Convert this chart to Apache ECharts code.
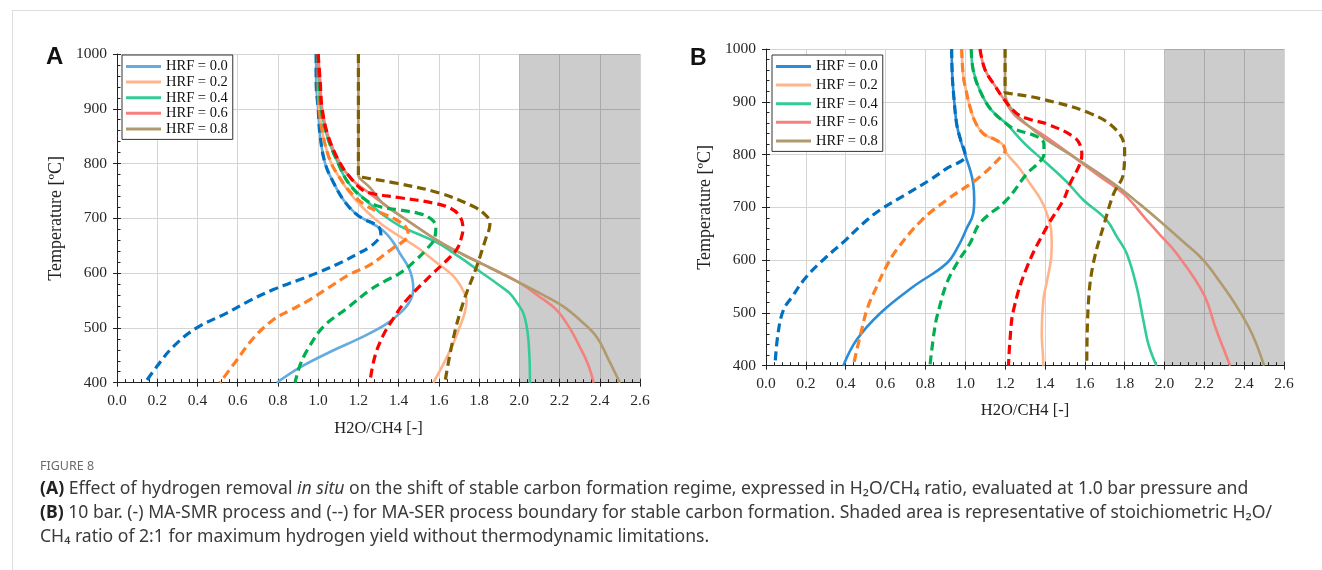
<!DOCTYPE html>
<html><head><meta charset="utf-8">
<script src="https://cdn.jsdelivr.net/npm/echarts@6/dist/echarts.min.js"></script>
<style>html,body{margin:0;padding:0;background:#fff}#c{width:1322px;height:570px}</style>
</head><body><div id="c"></div>
<script>
// ---------- labels / ticks ----------
const hrfLabels = ['HRF = 0.0', 'HRF = 0.2', 'HRF = 0.4', 'HRF = 0.6', 'HRF = 0.8'];
const xRange = [0, 2.6];
const xStep = 0.2;
const yRange = [400, 1000];
const yStep = 100;
const shadedRange = [2.0, 2.6];
const xName = 'H2O/CH4 [-]';
const yName = 'Temperature [ºC]';

// ---------- Panel A (1.0 bar): [H2O/CH4, T] ----------
const A_SMR_00 = [[0.99,1000],[0.99,950],[1.0,900],[1.01,850],[1.035,800],[1.078,764],[1.127,733],[1.185,709],[1.23,698],[1.315,680],[1.37,658],[1.41,634],[1.45,610],[1.468,590],[1.473,570],[1.455,548],[1.41,528],[1.33,505],[1.2,480],[1.058,456],[0.91,428],[0.794,400]];
const A_SER_00 = [[0.99,1000],[0.99,950],[1.0,900],[1.01,850],[1.035,800],[1.078,764],[1.127,733],[1.185,709],[1.23,698],[1.28,690],[1.305,682],[1.312,670],[1.30,662],[1.257,648],[1.2,636],[1.1,617],[0.993,600],[0.9,587],[0.777,570],[0.65,548],[0.545,527],[0.396,500],[0.28,466],[0.197,429],[0.14,400]];
const A_SMR_02 = [[1.0,1000],[1.0,950],[1.005,900],[1.025,850],[1.06,805],[1.1,778],[1.16,745],[1.24,713],[1.32,688],[1.41,666],[1.50,645],[1.572,624],[1.64,605],[1.688,588],[1.725,565],[1.738,550],[1.728,527],[1.70,498],[1.67,470],[1.62,432],[1.572,400]];
const A_SER_02 = [[1.0,1000],[1.0,950],[1.005,900],[1.025,850],[1.06,805],[1.1,778],[1.16,748],[1.23,725],[1.307,711],[1.39,697],[1.435,684],[1.448,671],[1.43,660],[1.373,646],[1.257,615],[1.158,598],[1.05,573],[0.943,548],[0.86,532],[0.777,515],[0.68,482],[0.595,441],[0.512,400]];
const A_SMR_04 = [[1.0,1000],[1.005,950],[1.015,900],[1.045,850],[1.1,800],[1.15,765],[1.24,732],[1.32,707],[1.407,686],[1.5,671],[1.59,656],[1.70,630],[1.804,603],[1.90,578],[1.953,563],[1.99,545],[2.02,527],[2.04,495],[2.05,450],[2.053,400]];
const A_SER_04 = [[1.0,1000],[1.005,950],[1.015,900],[1.045,850],[1.1,800],[1.15,765],[1.22,738],[1.3,722],[1.41,715],[1.50,709],[1.557,700],[1.585,685],[1.58,665],[1.54,644],[1.48,622],[1.407,600],[1.33,585],[1.257,569],[1.14,535],[1.025,502],[0.95,462],[0.91,432],[0.885,400]];
const A_SMR_06 = [[1.0,1000],[1.01,950],[1.02,900],[1.05,850],[1.11,800],[1.17,770],[1.24,750],[1.32,728],[1.44,697],[1.6,658],[1.72,634],[1.82,616],[1.92,598],[2.003,582],[2.1,557],[2.185,533],[2.25,500],[2.30,466],[2.34,435],[2.37,400]];
const A_SER_06 = [[1.0,1000],[1.01,950],[1.02,900],[1.05,850],[1.11,800],[1.17,770],[1.22,752],[1.274,745],[1.40,738],[1.572,728],[1.66,718],[1.705,703],[1.72,682],[1.71,662],[1.688,643],[1.63,620],[1.572,600],[1.44,551],[1.37,515],[1.32,484],[1.28,445],[1.257,400]];
const A_SMR_08 = [[1.2,1000],[1.2,778],[1.21,772],[1.26,755],[1.32,728],[1.44,697],[1.6,658],[1.72,634],[1.82,616],[1.92,598],[2.003,582],[2.12,560],[2.22,539],[2.30,515],[2.384,484],[2.44,445],[2.5,400]];
const A_SER_08 = [[1.2,1000],[1.2,777],[1.22,775],[1.39,764],[1.605,746],[1.77,722],[1.835,705],[1.854,691],[1.85,680],[1.837,667],[1.788,612],[1.72,545],[1.67,478],[1.63,400]];

// ---------- Panel B (10 bar) ----------
const B_SMR_00 = [[0.932,1000],[0.935,950],[0.945,900],[0.957,858],[0.975,830],[1.0,799],[1.025,770],[1.04,745],[1.045,715],[1.04,688],[1.007,660],[0.97,630],[0.907,594],[0.74,550],[0.572,499],[0.455,449],[0.388,400]];
const B_SER_00 = [[0.932,1000],[0.935,950],[0.945,900],[0.957,858],[0.975,830],[1.0,799],[0.9,772],[0.823,752],[0.7,724],[0.572,695],[0.48,667],[0.40,638],[0.30,605],[0.204,569],[0.13,530],[0.087,505],[0.06,460],[0.045,400]];
const B_SMR_02 = [[0.982,1000],[0.99,950],[1.005,920],[1.024,890],[1.05,862],[1.09,840],[1.157,827],[1.19,818],[1.208,802],[1.27,775],[1.325,745],[1.38,714],[1.41,688],[1.43,660],[1.434,630],[1.43,600],[1.41,560],[1.392,524],[1.384,461],[1.39,420],[1.392,400]];
const B_SER_02 = [[0.982,1000],[0.99,950],[1.005,920],[1.024,890],[1.05,862],[1.09,840],[1.157,827],[1.19,818],[1.2,808],[1.19,800],[1.074,758],[0.907,714],[0.78,675],[0.656,620],[0.60,585],[0.556,550],[0.51,510],[0.48,468],[0.438,400]];
const B_SMR_04 = [[1.03,1000],[1.04,960],[1.074,921],[1.13,885],[1.208,858],[1.30,820],[1.41,783],[1.51,748],[1.593,714],[1.71,676],[1.76,645],[1.81,613],[1.86,550],[1.894,486],[1.92,440],[1.96,400]];
const B_SER_04 = [[1.03,1000],[1.04,960],[1.074,921],[1.13,885],[1.208,858],[1.25,848],[1.36,834],[1.395,820],[1.395,800],[1.37,785],[1.31,764],[1.208,714],[1.074,670],[1.024,632],[0.96,595],[0.907,556],[0.87,510],[0.848,474],[0.823,400]];
const B_SMR_06 = [[1.074,1000],[1.10,960],[1.15,930],[1.19,907],[1.258,871],[1.40,835],[1.543,796],[1.67,760],[1.794,726],[1.911,676],[1.98,647],[2.06,613],[2.195,537],[2.26,468],[2.33,400]];
const B_SER_06 = [[1.074,1000],[1.10,960],[1.15,930],[1.19,907],[1.258,878],[1.33,866],[1.41,858],[1.543,834],[1.58,815],[1.585,800],[1.577,783],[1.526,745],[1.493,714],[1.41,663],[1.31,587],[1.242,505],[1.225,450],[1.217,400]];
const B_SMR_08 = [[1.2,1000],[1.2,918],[1.225,890],[1.30,860],[1.40,830],[1.543,796],[1.745,745],[1.87,708],[1.995,668],[2.1,633],[2.195,600],[2.28,558],[2.363,512],[2.44,460],[2.5,400]];
const B_SER_08 = [[1.2,1000],[1.2,918],[1.22,916],[1.375,906],[1.627,878],[1.76,846],[1.80,808],[1.794,764],[1.745,726],[1.70,672],[1.643,594],[1.618,518],[1.61,400]];

// ---------- styles ----------
const solidA = ['#63ACDF', '#FFB48C', '#33CC99', '#F4817D', '#B09A6E'];
const solidB = ['#2C8CD6', '#FFB48C', '#33CC99', '#F4817D', '#B09A6E'];
const dashC  = ['#0070C0', '#FF7F27', '#00B050', '#FF0000', '#7F6000'];
const serif = 'Liberation Serif';

const smrA = [A_SMR_00, A_SMR_02, A_SMR_04, A_SMR_06, A_SMR_08];
const serA = [A_SER_00, A_SER_02, A_SER_04, A_SER_06, A_SER_08];
const smrB = [B_SMR_00, B_SMR_02, B_SMR_04, B_SMR_06, B_SMR_08];
const serB = [B_SER_00, B_SER_02, B_SER_04, B_SER_06, B_SER_08];

function lineSeries(name, data, color, dashed, axisIdx) {
  return {
    type: 'line', name: name, data: data, xAxisIndex: axisIdx, yAxisIndex: axisIdx,
    smooth: 0.4, symbol: 'none', showSymbol: false, silent: true, animation: false,
    lineStyle: { color: color, width: dashed ? 3.2 : 2.6, type: dashed ? [9, 5] : 'solid', cap: 'butt' },
    itemStyle: { color: color }, z: dashed ? 4 : 3
  };
}
function shadeSeries(axisIdx) {
  return {
    type: 'line', data: [], xAxisIndex: axisIdx, yAxisIndex: axisIdx, z: 1, silent: true, animation: false,
    markArea: { silent: true, itemStyle: { color: 'rgba(0,0,0,0.2)' },
      data: [[{ xAxis: shadedRange[0] }, { xAxis: shadedRange[1] }]] }
  };
}

const series = [shadeSeries(0), shadeSeries(2)];
for (let i = 0; i < 5; i++) series.push(lineSeries(hrfLabels[i], smrA[i], solidA[i], false, 0));
for (let i = 0; i < 5; i++) series.push(lineSeries('SER A ' + hrfLabels[i], serA[i], dashC[i], true, 0));
for (let i = 0; i < 5; i++) series.push(lineSeries(hrfLabels[i], smrB[i], solidB[i], false, 2));
for (let i = 0; i < 5; i++) series.push(lineSeries('SER B ' + hrfLabels[i], serB[i], dashC[i], true, 2));

function mainX(grid, nameGap) {
  return {
    type: 'value', gridIndex: grid, position: 'bottom', min: xRange[0], max: xRange[1], interval: xStep,
    name: xName, nameLocation: 'middle', nameGap: nameGap,
    nameTextStyle: { fontFamily: serif, fontSize: 16.5, color: '#222' },
    axisLine: { show: true, onZero: false, lineStyle: { color: '#222', width: 1 } },
    axisTick: { show: true, inside: false, length: 4, lineStyle: { color: '#222' } },
    axisLabel: { fontFamily: serif, fontSize: 15.5, color: '#262626', margin: 10, formatter: v => v.toFixed(1) },
    splitLine: { show: true, lineStyle: { color: '#D4D4D4', width: 1 } }
  };
}
function minorX(grid) {
  return {
    type: 'value', gridIndex: grid, position: 'bottom', min: xRange[0], max: xRange[1], interval: xStep,
    axisLine: { show: false, onZero: false }, axisLabel: { show: false }, splitLine: { show: false },
    axisTick: { show: true, inside: true, length: 4, lineStyle: { color: '#222' } },
    minorTick: { show: true, splitNumber: 5, length: 3.5, lineStyle: { color: '#222' } }
  };
}
function mainY(grid, nameGap) {
  return {
    type: 'value', gridIndex: grid, position: 'left', min: yRange[0], max: yRange[1], interval: yStep,
    name: yName, nameLocation: 'middle', nameGap: nameGap,
    nameTextStyle: { fontFamily: serif, fontSize: 18, color: '#222' },
    axisLine: { show: true, onZero: false, lineStyle: { color: '#222', width: 1 } },
    axisTick: { show: true, inside: false, length: 4, lineStyle: { color: '#222' } },
    axisLabel: { fontFamily: serif, fontSize: 15.5, color: '#262626', margin: 10, formatter: v => String(v) },
    splitLine: { show: true, lineStyle: { color: '#D4D4D4', width: 1 } }
  };
}
function minorY(grid) {
  return {
    type: 'value', gridIndex: grid, position: 'left', min: yRange[0], max: yRange[1], interval: yStep,
    axisLine: { show: false, onZero: false }, axisLabel: { show: false }, splitLine: { show: false },
    axisTick: { show: true, inside: true, length: 4, lineStyle: { color: '#222' } },
    minorTick: { show: true, splitNumber: 5, length: 3.5, lineStyle: { color: '#222' } }
  };
}
function legendFor(colors, left, gap) {
  return {
    orient: 'vertical', left: left, top: 55, icon: 'rect', itemWidth: 35, itemHeight: 3, itemGap: gap,
    padding: [4, 5, 3, 4], borderColor: '#333', borderWidth: 1, backgroundColor: '#fff',
    selectedMode: false,
    textStyle: { fontFamily: serif, fontSize: 14.5, color: '#111', lineHeight: 13 },
    data: hrfLabels.map((n, i) => ({ name: n, itemStyle: { color: colors[i] } }))
  };
}

const capFont = 'Noto Sans';
const capSize = 17.6;
const tok = (extra) => Object.assign({ fontFamily: capFont, fontSize: capSize, fill: '#3a3a3a' }, extra || {});
const capRich = { n: tok(), b: tok({ fontWeight: 'bold', fill: '#222' }), i: tok({ fontStyle: 'italic' }) };
const captionLines = [
  '{b|(A)}{n| Effect of hydrogen removal }{i|in situ}{n| on the shift of stable carbon formation regime, expressed in H₂O/CH₄ ratio, evaluated at 1.0 bar pressure and}',
  '{b|(B)}{n| 10 bar. (-) MA-SMR process and (--) for MA-SER process boundary for stable carbon formation. Shaded area is representative of stoichiometric H₂O/}',
  '{n|CH₄ ratio of 2:1 for maximum hydrogen yield without thermodynamic limitations.}'
];

const graphics = [
  { type: 'line', shape: { x1: 12, y1: 10.5, x2: 1322, y2: 10.5 }, style: { stroke: '#DDDDDD', lineWidth: 1 } },
  { type: 'line', shape: { x1: 12.5, y1: 10, x2: 12.5, y2: 570 }, style: { stroke: '#DDDDDD', lineWidth: 1 } },
  { type: 'text', x: 46, y: 57, style: { text: 'A', fontFamily: 'Liberation Sans', fontWeight: 'bold', fontSize: 24, fill: '#111', verticalAlign: 'middle' } },
  { type: 'text', x: 690, y: 59, style: { text: 'B', fontFamily: 'Liberation Sans', fontWeight: 'bold', fontSize: 23, fill: '#111', verticalAlign: 'middle' } },
  { type: 'text', x: 40, y: 466, style: { text: 'FIGURE 8', fontFamily: capFont, fontSize: 12.5, fill: '#6b6b6b', verticalAlign: 'middle' } }
];
captionLines.forEach((t, k) => {
  graphics.push({ type: 'text', x: 40, y: 489 + k * 24, style: { text: t, rich: capRich, fontFamily: capFont, fontSize: capSize, fill: '#3a3a3a', verticalAlign: 'middle' } });
});

const chart = echarts.init(document.getElementById('c'), null, { renderer: 'canvas' });
chart.setOption({
  animation: false,
  backgroundColor: '#fff',
  grid: [
    { left: 117, top: 54, width: 523, height: 328.7, containLabel: false },
    { left: 766, top: 49, width: 518, height: 316.7, containLabel: false }
  ],
  xAxis: [mainX(0, 37), minorX(0), mainX(1, 36), minorX(1)],
  yAxis: [mainY(0, 52), minorY(0), mainY(1, 52), minorY(1)],
  legend: [legendFor(solidA, 122, 0.6), legendFor(solidB, 772, 3.6)],
  series: series,
  graphic: graphics
});
</script></body></html>
